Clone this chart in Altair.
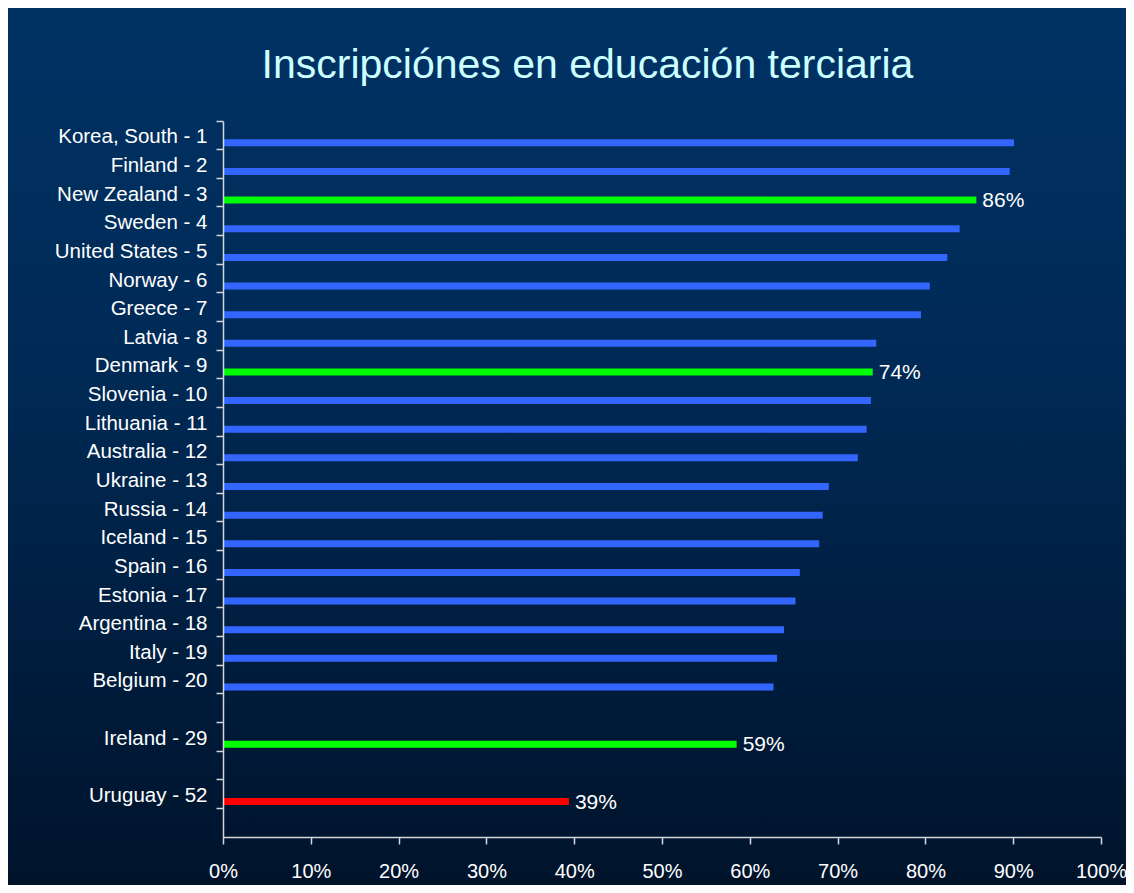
import altair as alt
import pandas as pd

titulo = "Inscripciónes en educación terciaria"
paises = [
    "Korea, South - 1", "Finland - 2", "New Zealand - 3", "Sweden - 4",
    "United States - 5", "Norway - 6", "Greece - 7", "Latvia - 8",
    "Denmark - 9", "Slovenia - 10", "Lithuania - 11", "Australia - 12",
    "Ukraine - 13", "Russia - 14", "Iceland - 15", "Spain - 16",
    "Estonia - 17", "Argentina - 18", "Italy - 19", "Belgium - 20",
    "Ireland - 29", "Uruguay - 52",
]
valores = [
    90.1, 89.6, 85.8, 83.9, 82.5, 80.5, 79.5, 74.4, 74.0, 73.8, 73.3,
    72.3, 69.0, 68.3, 67.9, 65.7, 65.2, 63.9, 63.1, 62.7, 58.5, 39.4,
]
grupos = [
    "otro", "otro", "destacado", "otro", "otro", "otro", "otro", "otro",
    "destacado", "otro", "otro", "otro", "otro", "otro", "otro", "otro",
    "otro", "otro", "otro", "otro", "destacado", "uruguay",
]
etiquetas = [
    "", "", "86%", "", "", "", "", "", "74%", "", "", "", "", "", "", "",
    "", "", "", "", "59%", "39%",
]
orden_eje = paises[:20] + [" ", "Ireland - 29", "  ", "Uruguay - 52", "   "]
ticks_x = [0, 10, 20, 30, 40, 50, 60, 70, 80, 90, 100]

df = pd.DataFrame({"pais": paises, "valor": valores, "grupo": grupos, "etiqueta": etiquetas})

W, H = 878, 716
PL, PT = 215, 113
TOTAL_W, TOTAL_H = 1118, 877
PR = TOTAL_W - PL - W
PB = TOTAL_H - PT - H

FONT = "Liberation Sans"
AXIS_COLOR = "#D4D6DC"

y_scale = alt.Scale(domain=orden_eje, paddingInner=0, paddingOuter=0)

y_enc = alt.Y(
    "pais:N",
    scale=y_scale,
    axis=alt.Axis(
        title=None, bandPosition=0, labelOffset=2, tickSize=7, tickWidth=1.5,
        tickColor=AXIS_COLOR, domainColor=AXIS_COLOR, domainWidth=1.5,
        labelPadding=9, labelFontSize=20.5, labelFont=FONT, labelColor="white",
        labelLimit=400, zindex=1,
    ),
)
x_enc = alt.X(
    "valor:Q",
    scale=alt.Scale(domain=[0, 100]),
    axis=alt.Axis(
        title=None, values=ticks_x, labelExpr="datum.value + '%'", grid=False,
        labelFlush=False, labelOverlap=False,
        tickSize=7, tickWidth=1.5, tickColor=AXIS_COLOR, domainColor=AXIS_COLOR,
        domainWidth=1.5, labelPadding=17, labelFontSize=20, labelFont=FONT,
        labelColor="white", zindex=1,
    ),
)

fondo = alt.Chart(alt.Data(values=[{"k": 1}])).mark_rect(
    color=alt.LinearGradient(
        gradient="linear", x1=0, x2=0, y1=0, y2=1,
        stops=[
            alt.GradientStop(color="#003264", offset=0),
            alt.GradientStop(color="#002a56", offset=0.4),
            alt.GradientStop(color="#00132b", offset=1),
        ],
    )
).encode(
    x=alt.value(-PL), x2=alt.value(W + PR),
    y=alt.value(-PT), y2=alt.value(H + PB),
)

barras = alt.Chart(df).mark_bar(size=7, yOffset=7.5).encode(
    y=y_enc,
    x=x_enc,
    color=alt.Color(
        "grupo:N",
        scale=alt.Scale(domain=["otro", "destacado", "uruguay"],
                        range=["#3366FF", "#00FF00", "#FF0000"]),
        legend=None,
    ),
)

textos = alt.Chart(df).transform_filter("datum.etiqueta != ''").mark_text(
    align="left", baseline="middle", dx=6, dy=8.5, fontSize=21, font=FONT, color="white",
).encode(
    y=alt.Y("pais:N", scale=y_scale),
    x=alt.X("valor:Q"),
    text="etiqueta:N",
)

cabecera = alt.Chart(alt.Data(values=[{"t": titulo}])).mark_text(
    align="center", baseline="alphabetic", fontSize=41, font=FONT, color="#CCFFFF",
).encode(
    x=alt.value(364.5), y=alt.value(-43), text="t:N",
)

chart = alt.layer(fondo, barras, textos, cabecera).properties(
    width=W, height=H,
    autosize=alt.AutoSizeParams(type="none"),
    padding={"left": PL, "top": PT, "right": PR, "bottom": PB},
).configure(background="#00132b").configure_view(stroke=None)

chart.save("out.html", embed_options={"renderer": "svg", "actions": False})
